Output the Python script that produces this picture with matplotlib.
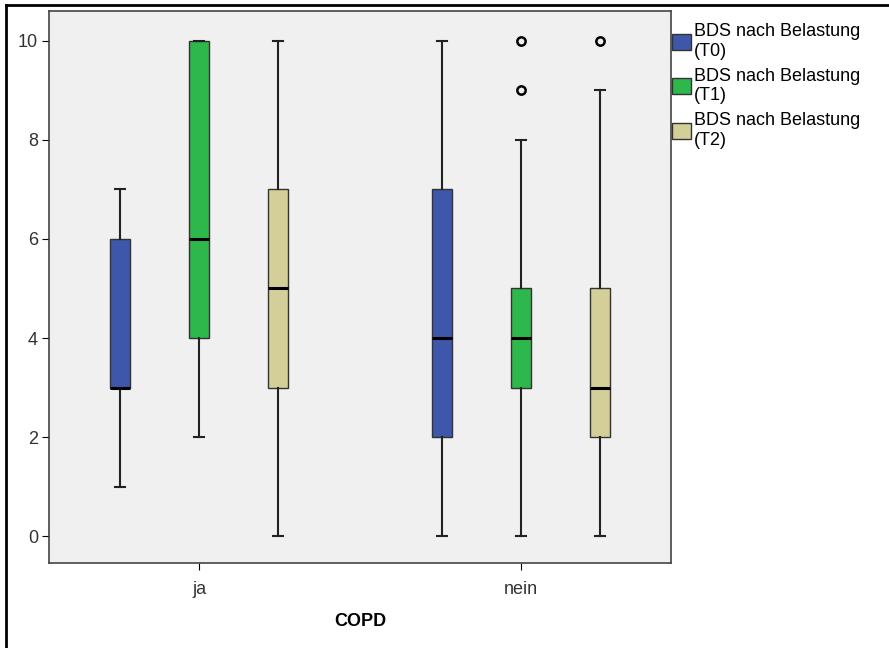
import matplotlib.pyplot as plt
from matplotlib.patches import Patch
from matplotlib.lines import Line2D

plt.rcParams['font.family'] = ['Liberation Sans', 'DejaVu Sans']

groups = ['ja', 'nein']
series = ['BDS nach Belastung\n(T0)', 'BDS nach Belastung\n(T1)', 'BDS nach Belastung\n(T2)']
colors = ['#3e57aa', '#2eb84b', '#d4cf98']

# per group: [T0, T1, T2] -> (whislo, q1, med, q3, whishi)
ja_stats = [(1, 3, 3, 6, 7), (2, 4, 6, 10, 10), (0, 3, 5, 7, 10)]
nein_stats = [(0, 2, 4, 7, 10), (0, 3, 4, 5, 8), (0, 2, 3, 5, 9)]
ja_fliers = [[], [], []]
nein_fliers = [[], [9, 10], [10]]

fig = plt.figure(figsize=(8.89, 6.48), dpi=100)
ax = fig.add_axes([49 / 889, 1 - 563 / 648, (671 - 49) / 889, (563 - 11) / 648])
ax.set_facecolor('#f0f0f0')

offset = 0.245
width = 0.062
for gi, (st, fl) in enumerate([(ja_stats, ja_fliers), (nein_stats, nein_fliers)]):
    for si in range(3):
        lo, q1, med, q3, hi = st[si]
        pos = gi + 1 + (si - 1) * offset
        ax.bxp([dict(whislo=lo, q1=q1, med=med, q3=q3, whishi=hi, fliers=fl[si])],
               positions=[pos], widths=width, patch_artist=True,
               boxprops=dict(facecolor=colors[si], edgecolor='#333333', linewidth=1),
               medianprops=dict(color='black', linewidth=2.2),
               whiskerprops=dict(color='#222222', linewidth=1.5),
               capprops=dict(color='#222222', linewidth=1.5),
               capwidths=width * 0.5,
               flierprops=dict(marker='o', markersize=6, markerfacecolor='none',
                               markeredgecolor='black', markeredgewidth=1.8))

ax.set_xlim(0.534, 2.465)
ax.set_ylim(-0.54, 10.6)
ax.set_xticks([1, 2])
ax.set_xticklabels(groups, fontsize=13, color='#333333')
ax.set_yticks(range(0, 11, 2))
ax.tick_params(axis='y', labelsize=13, labelcolor='#333333', length=5, pad=3)
ax.tick_params(axis='x', length=5, pad=8)
ax.set_xlabel('COPD', fontsize=13, fontweight='bold', labelpad=11)
for s in ax.spines.values():
    s.set_color('#444444')
    s.set_linewidth(1.2)

handles = [Patch(facecolor=c, edgecolor='#333333') for c in colors]
fig.legend(handles, series, loc='upper left', bbox_to_anchor=(672 / 889, 1 - 23 / 648),
           frameon=False, fontsize=13, handlelength=1.05, handleheight=1.0,
           handletextpad=0.15, labelspacing=0.45, borderaxespad=0, borderpad=0)

# outer frame lines (top and left)
fig.add_artist(Line2D([6 / 889, 6 / 889], [0, 1 - 5 / 648], color='black', lw=2,
                      transform=fig.transFigure))
fig.add_artist(Line2D([6 / 889, 1], [1 - 5 / 648, 1 - 5 / 648], color='black', lw=2,
                      transform=fig.transFigure))

fig.savefig('out.png', dpi=100)
